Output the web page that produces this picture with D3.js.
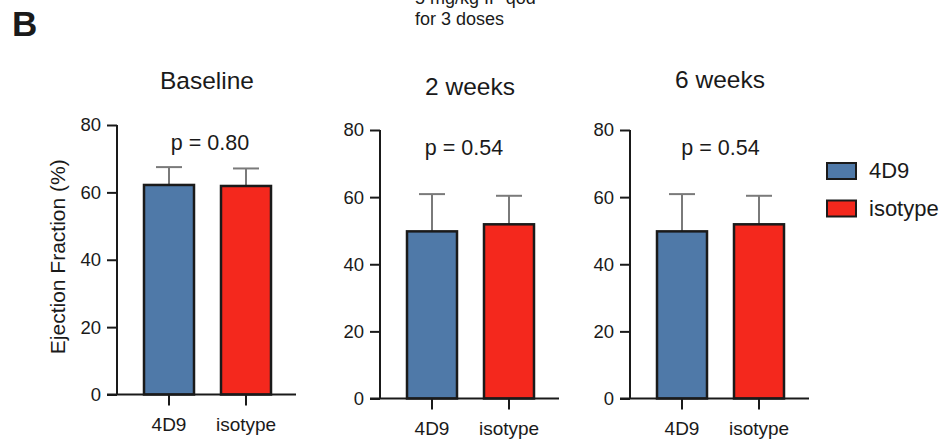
<!DOCTYPE html>
<html>
<head>
<meta charset="utf-8">
<script src="https://cdn.jsdelivr.net/npm/d3@7"></script>
<style>
  html, body { margin: 0; padding: 0; background: #fff; }
  svg { display: block; font-family: "Liberation Sans", Arial, Helvetica, sans-serif; }
</style>
</head>
<body>
<svg id="chart" width="947" height="444"></svg>
<script>
// Ejection fraction by treatment group at each time point
const groups = ["4D9", "isotype"];
const timepoints = ["Baseline", "2 weeks", "6 weeks"];
const mean4D9 = [62.2, 49.8, 49.8];
const meanIsotype = [61.9, 51.9, 51.9];
const sd4D9 = [5.3, 11.1, 11.1];
const sdIsotype = [5.2, 8.5, 8.5];
const pLabels = ["p = 0.80", "p = 0.54", "p = 0.54"];
const yTicks = [0, 20, 40, 60, 80];
const dosingNote = ["5 mg/kg IP qod", "for 3 doses"];

const colors = { "4D9": "#4f79a8", "isotype": "#f4281d" };
const ink = "#1a1a1a";

// panel frames: left axis x, top (y=80) and bottom (y=0), title / p-value offsets
const panels = [
  { x0: 117, top: 125, bottom: 394.5, titleY: 89, pDx: 93 },
  { x0: 380, top: 130, bottom: 398.5, titleY: 95, pDx: 84 },
  { x0: 630, top: 130, bottom: 398.5, titleY: 88, pDx: 90.5 }
];

const svg = d3.select("#chart");
svg.append("rect").attr("width", 947).attr("height", 444).attr("fill", "#fff");

// panel letter
svg.append("text").attr("x", 12).attr("y", 36)
  .attr("font-size", 35).attr("font-weight", "bold").attr("fill", ink).text("B");

// dosing note (its first line runs off the top edge)
svg.append("text").attr("x", 415).attr("font-size", 18).attr("fill", ink)
  .selectAll("tspan").data(dosingNote).join("tspan")
  .attr("x", 415).attr("y", (d, i) => 4 + i * 21).text(d => d);

panels.forEach((p, i) => {
  const y = d3.scaleLinear().domain([0, 80]).range([p.bottom, p.top]);
  const x = d3.scaleBand().domain(groups)
    .range([p.x0 + 27, p.x0 + 154]).paddingInner(27 / 77).paddingOuter(0);
  const xEnd = p.x0 + 179;

  const g = svg.append("g");

  // title
  g.append("text").attr("x", p.x0 + 90).attr("y", p.titleY)
    .attr("text-anchor", "middle").attr("font-size", 24.5).attr("fill", ink)
    .text(timepoints[i]);

  const rows = groups.map((k, j) => ({
    key: k,
    mean: j === 0 ? mean4D9[i] : meanIsotype[i],
    sd: j === 0 ? sd4D9[i] : sdIsotype[i]
  }));

  // error bars (upper only)
  const eb = g.selectAll("g.err").data(rows).join("g").attr("class", "err")
    .attr("stroke", "#7a7a7a").attr("stroke-width", 2);
  eb.append("line")
    .attr("x1", d => x(d.key) + x.bandwidth() / 2).attr("x2", d => x(d.key) + x.bandwidth() / 2)
    .attr("y1", d => y(d.mean)).attr("y2", d => y(d.mean + d.sd));
  eb.append("line")
    .attr("x1", d => x(d.key) + x.bandwidth() / 2 - 13).attr("x2", d => x(d.key) + x.bandwidth() / 2 + 13)
    .attr("y1", d => y(d.mean + d.sd)).attr("y2", d => y(d.mean + d.sd));

  // bars
  g.selectAll("rect.bar").data(rows).join("rect").attr("class", "bar")
    .attr("x", d => x(d.key)).attr("width", x.bandwidth())
    .attr("y", d => y(d.mean)).attr("height", d => y(0) - y(d.mean))
    .attr("fill", d => colors[d.key]).attr("stroke", ink).attr("stroke-width", 2.5);

  // y axis
  const ya = g.append("g").attr("transform", `translate(${p.x0},0)`)
    .call(d3.axisLeft(y).tickValues(yTicks).tickSize(10).tickPadding(6));
  ya.select(".domain").attr("stroke", ink).attr("stroke-width", 2).attr("d", `M0,${p.top}V${p.bottom}`);
  ya.selectAll(".tick line").attr("stroke", ink).attr("stroke-width", 2);
  ya.selectAll(".tick text").attr("font-size", 18.5).attr("fill", ink)
    .attr("font-family", "Liberation Sans, Arial, sans-serif");

  // x axis
  const xa = g.append("g").attr("transform", `translate(0,${p.bottom})`)
    .call(d3.axisBottom(x).tickSize(11).tickPadding(12));
  xa.select(".domain").attr("stroke", ink).attr("stroke-width", 2)
    .attr("d", `M${p.x0 - 10},0H${xEnd}`);
  xa.selectAll(".tick line").attr("stroke", ink).attr("stroke-width", 2);
  xa.selectAll(".tick text").attr("font-size", 19).attr("fill", ink)
    .attr("font-family", "Liberation Sans, Arial, sans-serif");

  // p-value
  g.append("text").attr("x", p.x0 + p.pDx).attr("y", y(80) + 25)
    .attr("text-anchor", "middle").attr("font-size", 21.5).attr("fill", ink)
    .text(pLabels[i]);

  if (i === 0) {
    g.append("text")
      .attr("transform", `translate(65,${(p.top + p.bottom) / 2 - 3}) rotate(-90)`)
      .attr("text-anchor", "middle").attr("font-size", 21).attr("fill", ink)
      .text("Ejection Fraction (%)");
  }
});

// legend
const legend = svg.append("g").attr("transform", "translate(827,163)");
const li = legend.selectAll("g").data(groups).join("g")
  .attr("transform", (d, i) => `translate(0,${i * 37.5})`);
li.append("rect").attr("width", 29).attr("height", 16)
  .attr("fill", d => colors[d]).attr("stroke", ink).attr("stroke-width", 2);
li.append("text").attr("x", 42).attr("y", 15).attr("font-size", 22).attr("fill", ink)
  .text(d => d);
</script>
</body>
</html>
